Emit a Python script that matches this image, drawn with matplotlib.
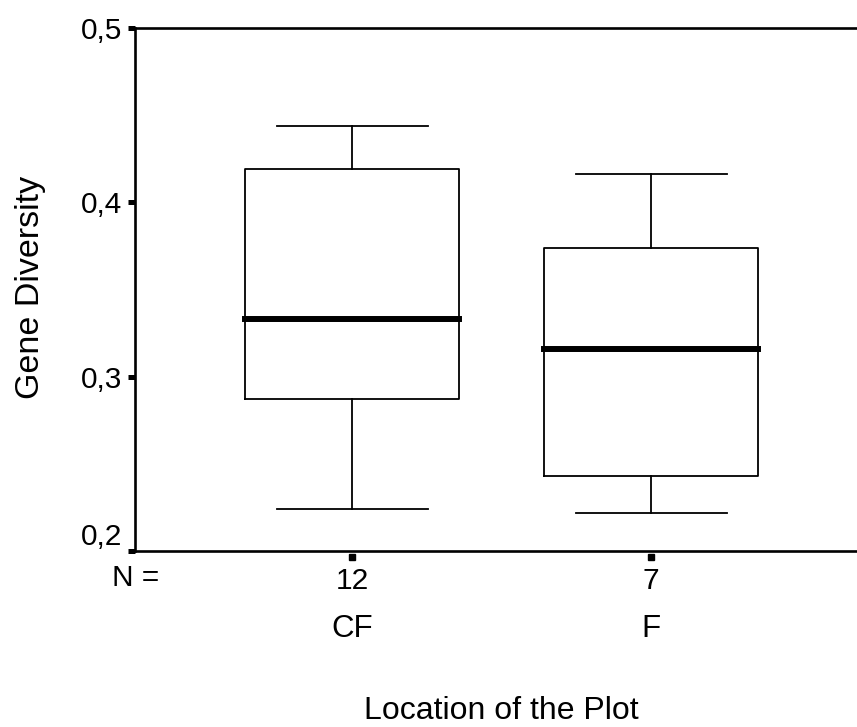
import matplotlib
matplotlib.use("Agg")
import matplotlib.pyplot as plt

plt.rcParams['font.family'] = ['Liberation Sans', 'DejaVu Sans']

# box statistics
categories = ['CF', 'F']
counts = [12, 7]
whisker_low = [0.224, 0.222]
q1 = [0.287, 0.243]
median = [0.333, 0.316]
q3 = [0.419, 0.374]
whisker_high = [0.444, 0.416]

yticks = [0.2, 0.3, 0.4, 0.5]
ytick_labels = ['0,2', '0,3', '0,4', '0,5']

positions = [1, 2]

stats = []
for i, cat in enumerate(categories):
    stats.append({
        'label': cat,
        'whislo': whisker_low[i],
        'q1': q1[i],
        'med': median[i],
        'q3': q3[i],
        'whishi': whisker_high[i],
        'fliers': [],
    })

fig = plt.figure(figsize=(8.57, 7.27), dpi=100)
ax = fig.add_axes([135 / 857, 1 - 551 / 727, 1 - 135 / 857, (551 - 28) / 727])

ax.bxp(stats, positions=positions, widths=0.716, capwidths=0.505,
       showfliers=False,
       boxprops=dict(color='black', linewidth=1.3),
       whiskerprops=dict(color='black', linewidth=1.3),
       capprops=dict(color='black', linewidth=1.3),
       medianprops=dict(color='black', linewidth=4.3, solid_capstyle='projecting'))

ax.set_xlim(0.274, 2.689)
ax.set_ylim(0.2, 0.5)

for side in ['top', 'bottom', 'left']:
    ax.spines[side].set_linewidth(1.9)
ax.spines['right'].set_visible(False)

ax.set_yticks(yticks)
ax.set_yticklabels(ytick_labels)
ax.tick_params(axis='y', length=5, width=3.6, pad=4.5, labelsize=21.5)
ax.set_xticks(positions)
ax.set_xticklabels([str(n) for n in counts])
ax.tick_params(axis='x', length=0, pad=11.5, labelsize=21.5)
ax.get_yticklabels()[0].set_va('bottom')

# small square tick marks under the x axis
ax.plot(positions, [-0.012] * len(positions), 's', color='black', markersize=4.5,
        transform=ax.get_xaxis_transform(), clip_on=False)

for x, cat in zip(positions, categories):
    ax.text(x, -0.1644, cat, transform=ax.get_xaxis_transform(),
            ha='center', va='baseline', fontsize=22.5)

fig.text(112 / 857, 1 - 578 / 727, 'N =', ha='left', va='center', fontsize=21.5)
fig.text(31 / 857, 1 - 287 / 727, 'Gene Diversity', rotation=90,
         ha='center', va='center', fontsize=24.5)
fig.text(501 / 857, 1 - 719 / 727, 'Location of the Plot',
         ha='center', va='baseline', fontsize=23)

fig.savefig('out.png', dpi=100)
